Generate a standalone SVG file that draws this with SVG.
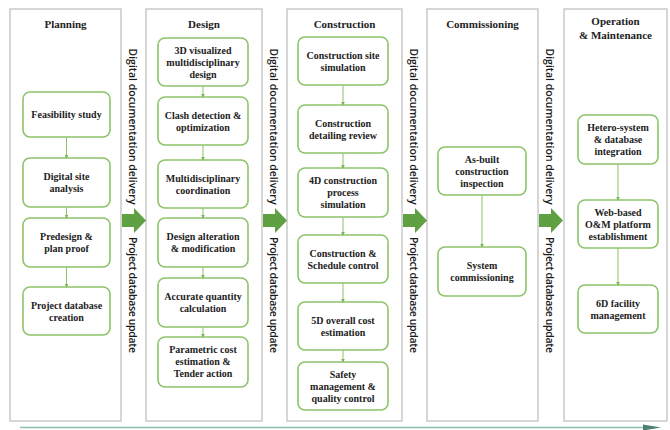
<svg xmlns="http://www.w3.org/2000/svg" width="670" height="430" viewBox="0 0 670 430">
<defs>
<style>
.phase{fill:#fff;stroke:#c9c9c9;stroke-width:1.5}
.node rect{fill:#fff;stroke:#8cc46a;stroke-width:1.6}
.nt{font-family:"Liberation Serif","Times New Roman",serif;font-weight:bold;font-size:10px;fill:#222;text-anchor:middle}
.pt{font-family:"Liberation Serif","Times New Roman",serif;font-weight:bold;font-size:11px;fill:#222;text-anchor:middle}
.vl{font-family:"Open Sans","Liberation Sans",Arial,sans-serif;font-size:10.5px;font-weight:600;fill:#1a1a1a;text-anchor:middle}
.con{stroke:#8cc46a;stroke-width:1;fill:none;marker-end:url(#ah)}
.big{fill:#5fa043}
</style>
<marker id="ah" viewBox="0 0 6 6" refX="5" refY="3" markerWidth="4" markerHeight="4" markerUnits="userSpaceOnUse" orient="auto"><path d="M0,0L6,3L0,6Z" fill="#7ab55a"/></marker>
<path id="bigarrow" d="M0,-6.5H12V-12.5L24,0L12,12.5V6.5H0Z"/>
</defs>
<rect width="670" height="430" fill="#fff"/>

<!-- phases -->
<g id="phase-planning"><rect class="phase" x="10" y="9" width="111" height="412"/><text class="pt" x="65.5" y="28">Planning</text></g>
<g id="phase-design"><rect class="phase" x="146" y="9" width="116" height="412"/><text class="pt" x="204" y="28">Design</text></g>
<g id="phase-construction"><rect class="phase" x="287" y="9" width="115" height="412"/><text class="pt" x="344.5" y="28">Construction</text></g>
<g id="phase-commissioning"><rect class="phase" x="427" y="9" width="111" height="412"/><text class="pt" x="482.5" y="28">Commissioning</text></g>
<g id="phase-om"><rect class="phase" x="564" y="9" width="103" height="412"/><text class="pt" x="615.5" y="25">Operation</text><text class="pt" x="615.5" y="39">&amp; Maintenance</text></g>

<!-- planning nodes -->
<g id="p1" class="node"><rect x="23" y="92" width="87" height="45" rx="7"/><text class="nt" x="66.5" y="118">Feasibility study</text></g>
<g id="p2" class="node"><rect x="23" y="158" width="87" height="49" rx="7"/><text class="nt" x="66.5" y="180">Digital site</text><text class="nt" x="66.5" y="192">analysis</text></g>
<g id="p3" class="node"><rect x="23" y="218" width="87" height="49" rx="7"/><text class="nt" x="66.5" y="240">Predesign &amp;</text><text class="nt" x="66.5" y="252">plan proof</text></g>
<g id="p4" class="node"><rect x="23" y="287" width="87" height="48" rx="7"/><text class="nt" x="66.5" y="308.5">Project database</text><text class="nt" x="66.5" y="320.5">creation</text></g>

<!-- design nodes -->
<g id="d1" class="node"><rect x="158" y="38" width="90" height="48" rx="7"/><text class="nt" x="203" y="53.5">3D visualized</text><text class="nt" x="203" y="65.5">multidisciplinary</text><text class="nt" x="203" y="77.5">design</text></g>
<g id="d2" class="node"><rect x="158" y="97" width="90" height="48" rx="7"/><text class="nt" x="203" y="118.5">Clash detection &amp;</text><text class="nt" x="203" y="130.5">optimization</text></g>
<g id="d3" class="node"><rect x="158" y="160" width="90" height="48" rx="7"/><text class="nt" x="203" y="181.5">Multidisciplinary</text><text class="nt" x="203" y="193.5">coordination</text></g>
<g id="d4" class="node"><rect x="158" y="218" width="90" height="49" rx="7"/><text class="nt" x="203" y="240">Design alteration</text><text class="nt" x="203" y="252">&amp; modification</text></g>
<g id="d5" class="node"><rect x="158" y="278" width="90" height="49" rx="7"/><text class="nt" x="203" y="300">Accurate quantity</text><text class="nt" x="203" y="312">calculation</text></g>
<g id="d6" class="node"><rect x="158" y="337" width="90" height="50" rx="7"/><text class="nt" x="203" y="353">Parametric cost</text><text class="nt" x="203" y="365">estimation &amp;</text><text class="nt" x="203" y="377">Tender action</text></g>

<!-- construction nodes -->
<g id="c1" class="node"><rect x="298" y="37" width="90" height="48" rx="7"/><text class="nt" x="343" y="58.5">Construction site</text><text class="nt" x="343" y="70.5">simulation</text></g>
<g id="c2" class="node"><rect x="298" y="105" width="90" height="48" rx="7"/><text class="nt" x="343" y="126.5">Construction</text><text class="nt" x="343" y="138.5">detailing review</text></g>
<g id="c3" class="node"><rect x="298" y="168" width="90" height="49" rx="7"/><text class="nt" x="343" y="184">4D construction</text><text class="nt" x="343" y="196">process</text><text class="nt" x="343" y="208">simulation</text></g>
<g id="c4" class="node"><rect x="298" y="235" width="90" height="48" rx="7"/><text class="nt" x="343" y="256.5">Construction &amp;</text><text class="nt" x="343" y="268.5">Schedule control</text></g>
<g id="c5" class="node"><rect x="298" y="302" width="90" height="48" rx="7"/><text class="nt" x="343" y="323.5">5D overall cost</text><text class="nt" x="343" y="335.5">estimation</text></g>
<g id="c6" class="node"><rect x="298" y="362" width="90" height="48" rx="7"/><text class="nt" x="343" y="377.5">Safety</text><text class="nt" x="343" y="389.5">management &amp;</text><text class="nt" x="343" y="401.5">quality control</text></g>

<!-- commissioning nodes -->
<g id="m1" class="node"><rect x="438" y="147" width="88" height="48" rx="7"/><text class="nt" x="482" y="162.5">As-built</text><text class="nt" x="482" y="174.5">construction</text><text class="nt" x="482" y="186.5">inspection</text></g>
<g id="m2" class="node"><rect x="438" y="247" width="88" height="49" rx="7"/><text class="nt" x="482" y="269">System</text><text class="nt" x="482" y="281">commissioning</text></g>

<!-- O&M nodes -->
<g id="o1" class="node"><rect x="578" y="115" width="80" height="49" rx="7"/><text class="nt" x="618" y="131">Hetero-system</text><text class="nt" x="618" y="143">&amp; database</text><text class="nt" x="618" y="155">integration</text></g>
<g id="o2" class="node"><rect x="578" y="200" width="80" height="48" rx="7"/><text class="nt" x="618" y="215.5">Web-based</text><text class="nt" x="618" y="227.5">O&amp;M platform</text><text class="nt" x="618" y="239.5">establishment</text></g>
<g id="o3" class="node"><rect x="578" y="285" width="80" height="48" rx="7"/><text class="nt" x="618" y="306.5">6D facility</text><text class="nt" x="618" y="318.5">management</text></g>

<!-- gap labels -->
<g id="gap1"><text class="vl" textLength="156" transform="translate(129,126.5) rotate(90)">Digital documentation delivery</text><use href="#bigarrow" class="big" x="122" y="220.5"/><text class="vl" textLength="116" transform="translate(129,295) rotate(90)">Project database update</text></g>
<g id="gap2"><text class="vl" textLength="156" transform="translate(270,126.5) rotate(90)">Digital documentation delivery</text><use href="#bigarrow" class="big" x="263" y="220.5"/><text class="vl" textLength="116" transform="translate(270,295) rotate(90)">Project database update</text></g>
<g id="gap3"><text class="vl" textLength="156" transform="translate(410,126.5) rotate(90)">Digital documentation delivery</text><use href="#bigarrow" class="big" x="403" y="220.5"/><text class="vl" textLength="116" transform="translate(410,295) rotate(90)">Project database update</text></g>
<g id="gap4"><text class="vl" textLength="156" transform="translate(546,126.5) rotate(90)">Digital documentation delivery</text><use href="#bigarrow" class="big" x="539" y="220.5"/><text class="vl" textLength="116" transform="translate(546,295) rotate(90)">Project database update</text></g>

<!-- connectors -->
<g id="connectors">
<line class="con" x1="66.5" y1="137" x2="66.5" y2="158"/>
<line class="con" x1="66.5" y1="207" x2="66.5" y2="218"/>
<line class="con" x1="66.5" y1="267" x2="66.5" y2="287"/>
<line class="con" x1="203" y1="86" x2="203" y2="97"/>
<line class="con" x1="203" y1="145" x2="203" y2="160"/>
<line class="con" x1="203" y1="208" x2="203" y2="218"/>
<line class="con" x1="203" y1="267" x2="203" y2="278"/>
<line class="con" x1="203" y1="327" x2="203" y2="337"/>
<line class="con" x1="343" y1="85" x2="343" y2="105"/>
<line class="con" x1="343" y1="153" x2="343" y2="168"/>
<line class="con" x1="343" y1="217" x2="343" y2="235"/>
<line class="con" x1="343" y1="283" x2="343" y2="302"/>
<line class="con" x1="343" y1="350" x2="343" y2="362"/>
<line class="con" x1="482" y1="195" x2="482" y2="247"/>
<line class="con" x1="618" y1="164" x2="618" y2="200"/>
<line class="con" x1="618" y1="248" x2="618" y2="285"/>
<line x1="20" y1="427.5" x2="648" y2="427.5" stroke="#8bbdb2" stroke-width="1.5"/>
<polygon points="643,424.5 661,427.5 643,430.5" fill="#4f7f72"/>
</g>
</svg>
